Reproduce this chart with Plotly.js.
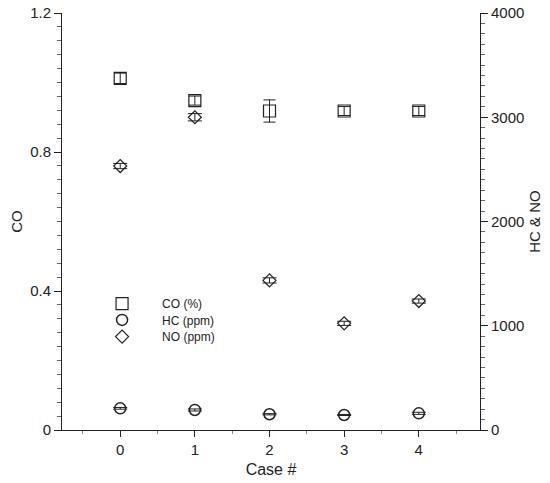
<!DOCTYPE html>
<html>
<head>
<meta charset="utf-8">
<script src="https://cdn.plot.ly/plotly-3.0.1.min.js"></script>
<style>html,body{margin:0;padding:0;background:#fff;}#chart{width:550px;height:483px;}</style>
</head>
<body>
<div id="chart"></div>
<script>
// Data
var cases = [0, 1, 2, 3, 4];
var coValues = [1.012, 0.948, 0.918, 0.918, 0.918];      // CO (%) - left axis
var coErrors = [0.015, 0.013, 0.032, 0.013, 0.013];
var hcValues = [208, 192, 151, 144, 160];                // HC (ppm) - right axis
var hcErrors = [8, 10, 6, 5, 10];
var noValues = [2532, 3000, 1435, 1023, 1237];           // NO (ppm) - right axis
var noErrors = [25, 35, 25, 20, 20];
var seriesNames = ['CO (%)', 'HC (ppm)', 'NO (ppm)'];
var xTickVals = [0, 1, 2, 3, 4];

var FONT = 'Arial, "Liberation Sans", sans-serif';
var INK = '#222';

var traces = [
  {
    x: cases, y: coValues, name: seriesNames[0], type: 'scatter', mode: 'markers',
    xaxis: 'x', yaxis: 'y', legend: 'legend',
    marker: {symbol: 'square-open', size: 12, color: INK, line: {width: 1.2, color: INK}},
    error_y: {type: 'data', array: coErrors, visible: true, color: INK, thickness: 1, width: 6}
  },
  {
    x: cases, y: hcValues, name: seriesNames[1], type: 'scatter', mode: 'markers',
    xaxis: 'x', yaxis: 'y2', legend: 'legend2',
    marker: {symbol: 'circle-open', size: 11, color: INK, line: {width: 1.5, color: INK}},
    error_y: {type: 'data', array: hcErrors, visible: true, color: INK, thickness: 1, width: 7}
  },
  {
    x: cases, y: noValues, name: seriesNames[2], type: 'scatter', mode: 'markers',
    xaxis: 'x', yaxis: 'y2', legend: 'legend3',
    marker: {symbol: 'diamond-open', size: 10, color: INK, line: {width: 1.2, color: INK}},
    error_y: {type: 'data', array: noErrors, visible: true, color: INK, thickness: 1, width: 7}
  }
];

function legendAt(yPaper) {
  return {
    x: 0.048, y: yPaper, xanchor: 'left', yanchor: 'middle',
    itemwidth: 70,
    bgcolor: 'rgba(0,0,0,0)', borderwidth: 0,
    font: {family: FONT, size: 12, color: INK}
  };
}

var layout = {
  width: 550, height: 483,
  margin: {l: 62, r: 70, t: 13, b: 53},
  paper_bgcolor: '#fff', plot_bgcolor: '#fff',
  font: {family: FONT, color: INK},
  showlegend: true,
  legend: legendAt(0.303),
  legend2: legendAt(0.264),
  legend3: legendAt(0.224),
  xaxis: {
    range: [-0.78, 4.82], tickvals: xTickVals, ticktext: xTickVals.map(String),
    showgrid: false, zeroline: false, showline: true, linecolor: INK, linewidth: 1,
    ticks: 'outside', ticklen: 6, tickcolor: INK, tickwidth: 1,
    minor: {dtick: 0.5, tick0: 0, ticks: 'outside', ticklen: 3, tickcolor: '#888', showgrid: false},
    tickfont: {family: FONT, size: 15, color: INK},
    title: {text: 'Case #', font: {family: FONT, size: 16, color: INK}, standoff: 6}
  },
  xaxis2: {
    overlaying: 'x', side: 'top', range: [-0.78, 4.82], tickvals: xTickVals,
    showticklabels: false, showgrid: false, zeroline: false, showline: true, linecolor: INK, linewidth: 1,
    ticks: 'inside', ticklen: 4, tickcolor: INK,
    minor: {dtick: 0.5, tick0: 0, ticks: 'inside', ticklen: 2, tickcolor: '#888', showgrid: false}
  },
  yaxis: {
    range: [0, 1.2], tick0: 0, dtick: 0.4,
    showgrid: false, zeroline: false, showline: true, linecolor: INK, linewidth: 1,
    ticks: 'outside', ticklen: 7, tickcolor: INK,
    minor: {dtick: 0.04, tick0: 0, ticks: 'outside', ticklen: 4, tickcolor: '#666', showgrid: false},
    tickfont: {family: FONT, size: 15, color: INK},
    title: {text: 'CO', font: {family: FONT, size: 15, color: INK}}
  },
  yaxis2: {
    overlaying: 'y', side: 'right', range: [0, 4000], tick0: 0, dtick: 1000,
    showgrid: false, zeroline: false, showline: true, linecolor: INK, linewidth: 1,
    ticks: 'outside', ticklen: 7, tickcolor: INK,
    minor: {dtick: 100, tick0: 0, ticks: 'outside', ticklen: 4, tickcolor: '#666', showgrid: false},
    tickfont: {family: FONT, size: 15, color: INK},
    title: {text: 'HC &amp; NO', font: {family: FONT, size: 15, color: INK}}
  }
};

Plotly.newPlot('chart', traces, layout, {displayModeBar: false, staticPlot: true});
</script>
</body>
</html>
